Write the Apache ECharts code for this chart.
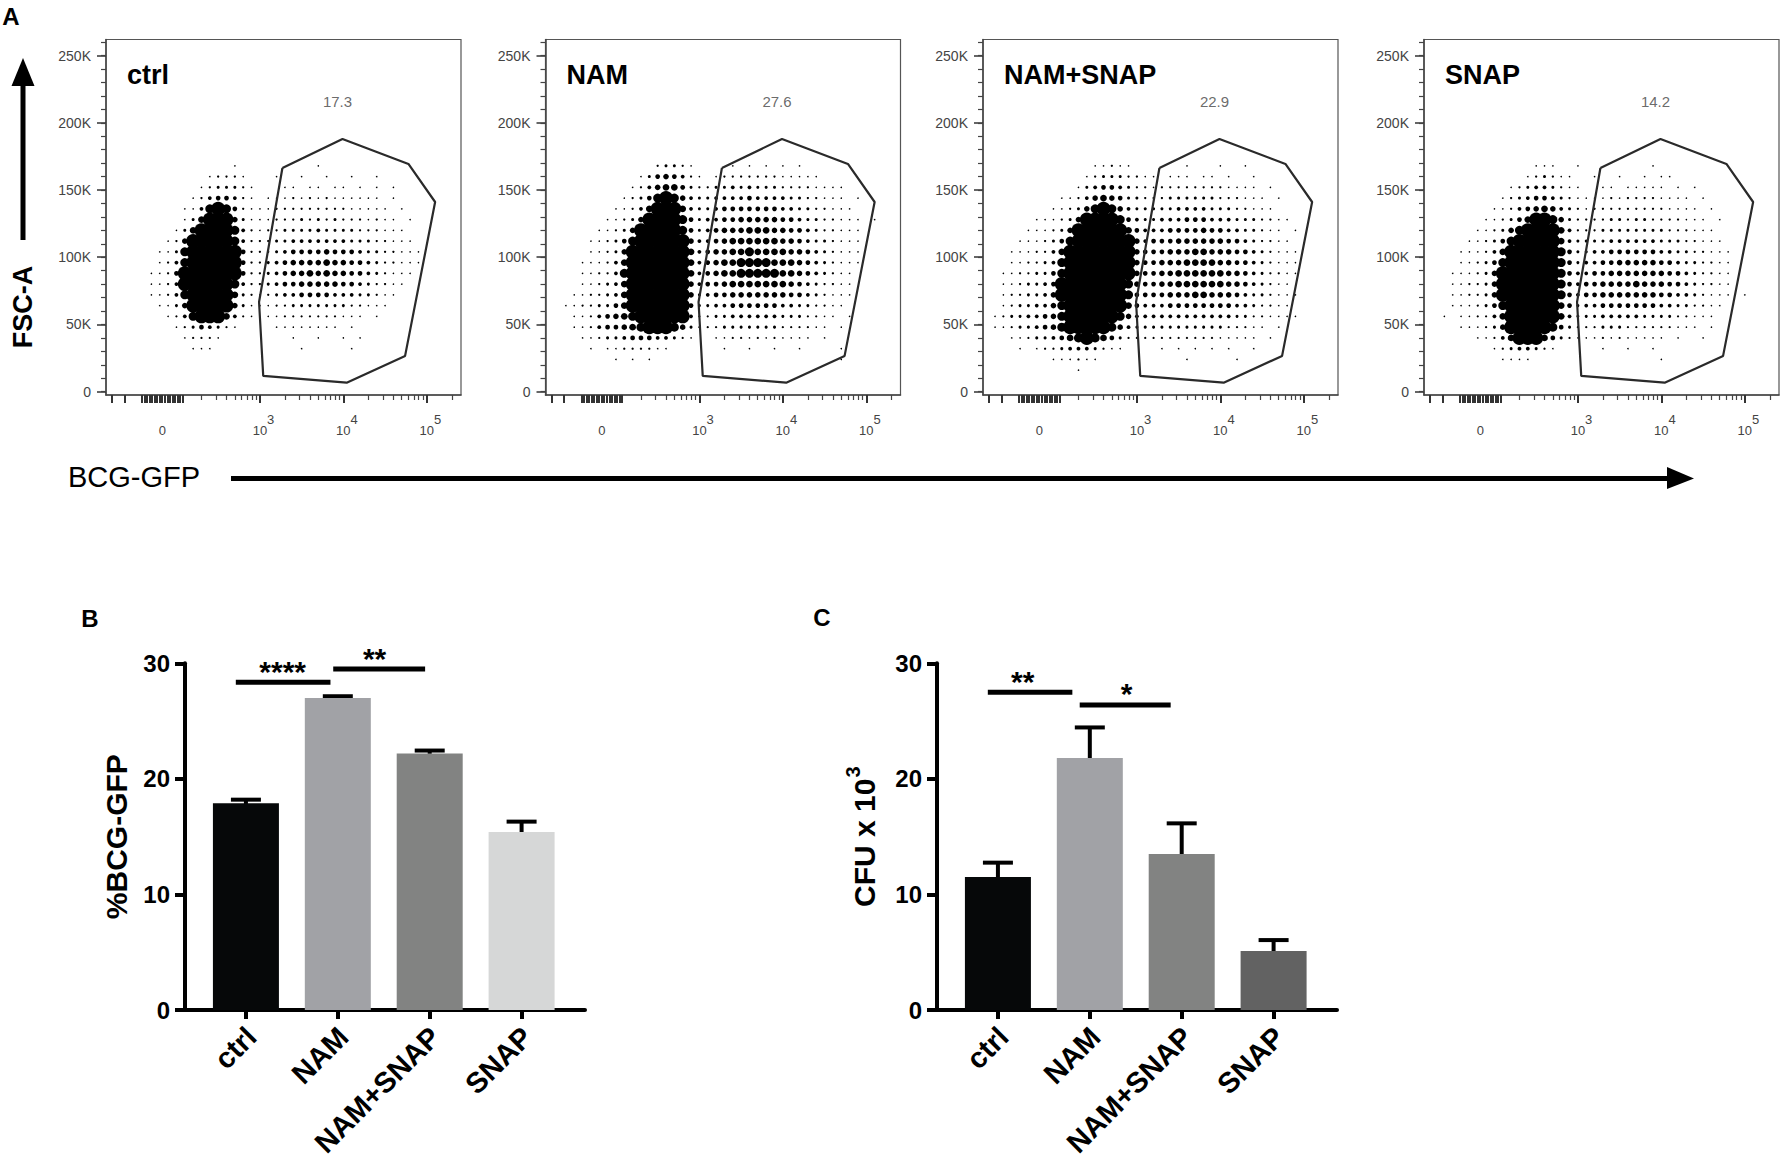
<!DOCTYPE html>
<html>
<head>
<meta charset="utf-8">
<title>BCG-GFP uptake</title>
<script src="https://cdn.jsdelivr.net/npm/echarts@6/dist/echarts.min.js"></script>
<style>
  html, body { margin: 0; padding: 0; background: #fff; }
  #main { width: 1782px; height: 1160px; }
</style>
</head>
<body>
<div id="main"></div>
<script>
// ---- panel A: flow plots ----
var flowNames = ['ctrl', 'NAM', 'NAM+SNAP', 'SNAP'];
var gatePct = [17.3, 27.6, 22.9, 14.2];
// gate polygon (same gate on every plot), x in decades of BCG-GFP, y in FSC-A
var gateX = [3.27, 3.99, 4.78, 5.10, 4.74, 4.04, 3.04, 2.99, 3.27];
var gateY = [166400, 188000, 169400, 141100, 26600, 6700, 11700, 66700, 166400];
var fscTicks = [0, 50000, 100000, 150000, 200000, 250000];
var gfpLabelAt = [1.83, 3, 4, 5];
var gfpMajorTicks = [3, 4, 5, 1.23, 1.38, 1.59, 1.62, 1.65, 1.68, 1.71, 1.74, 1.77, 1.80,
  1.83, 1.86, 1.89, 1.92, 1.95, 1.98, 2.01, 2.04, 2.07];
var logSteps = [0.301, 0.477, 0.602, 0.699, 0.778, 0.845, 0.903, 0.954];

// dot density. rows: FSC-A 176K down to 16K in 8K steps,
// columns: 1.3 to 5.2 decades in 0.1 steps. '.' = no dots, 9 = solid black
var ctrlDots = [
  '.......... .......... .......... ..........',
  '.......... ....1..... ....1..... ..........',
  '.......... .12221...1 ..1..1..1. .1........',
  '.......... 1233321... 11.11.11.1 .1.1......',
  '.........1 2455421.11 1212121111 11.1......',
  '........11 4898521112 2222222211 111.1.....',
  '........13 7999631112 2232323222 1211.1....',
  '.......137 9999842122 3333433332 22111.....',
  '......1269 9999842223 3444444433 322111....',
  '.....11389 9999952223 4555565554 3322111...',
  '.....12489 9999952234 5666676655 4322111...',
  '....112599 9999952234 5667676655 432111....',
  '....112499 9999842234 5566666554 32211.....',
  '....112489 9999732123 4455554443 3211......',
  '.....11369 9999631112 2333333322 111.......',
  '......1248 9997421.11 2222222111 .1........',
  '.......123 54321....1 1111111.1. ..........',
  '........12 221....... .1..1..1.1 ..........',
  '.........1 11........ ..1.....1. ..........',
  '.......... .......... .......... ..........',
  '.......... .......... .......... ..........'
];
var namDots = [
  '.......... .......... .......... ..........',
  '.......... ..23321... .1.1.1.1.1 ..........',
  '.......... 13565421.1 2222222111 11........',
  '.........1 2467753223 3434333222 21111.....',
  '........12 3589864334 4445444433 22111.1...',
  '.......112 4799974334 5555555443 322111....',
  '......1123 6999985344 5566666554 3322111.1.',
  '.....11236 9999985345 6667776655 4322111...',
  '....112358 9999996445 6777777665 4332111...',
  '....112369 9999997456 6778777766 5432111...',
  '...1112479 9999997456 7788887776 5432111...',
  '...1122489 9999997456 7788888776 543211....',
  '...1123479 9999996455 6777777765 432211....',
  '..11223479 9999996345 5666666655 432111....',
  '.112233579 9999995334 4555555443 32211.....',
  '..11245678 9999994223 3444444333 2211.1....',
  '..11245567 8999863222 3333333222 211.1.....',
  '...1123345 5544321..1 1221212111 1.1.......',
  '....1.1122 2211...... 1..1..1..1 ....1.....',
  '.......1.1 .1........ .......... ....1.....',
  '.......... .......... .......... ..........'
];
var namSnapDots = [
  '.......... .......... .......... ..........',
  '.......... ..11211... ...1...1.. 1.........',
  '.......... .123332211 .111.11.1. .1........',
  '.......... 1345543221 2222222211 11.1......',
  '........11 2467653322 2333333222 111.1.....',
  '.......112 3689864333 3344443332 2111......',
  '.....11123 6999985433 4445554443 332211....',
  '....111236 9999997544 4555565544 33211.1...',
  '...1112358 9999999645 5566666655 432211....',
  '..11122479 9999999655 5666776665 5432111...',
  '..11223489 9999999655 6667777665 5432111...',
  '.112233589 9999999655 6677777766 5432211...',
  '.112334599 9999998655 6677777766 543211....',
  '.122334699 9999998555 5666776665 4332111...',
  '.123344689 9999997544 4555555554 432211....',
  '1233445689 9999986444 4444444443 3221111...',
  '1123345689 9999864333 3333333322 211.1.....',
  '..11233457 8987532222 2222222111 11.1......',
  '...1.12234 443211.... 1.1.1.1.1. .1........',
  '.......111 211....... ...1.....1 ..........',
  '.......... 1......... .......... ..........'
];
var snapDots = [
  '.......... .......... .......... ..........',
  '.......... ..111..1.. ......1... ..........',
  '.......... .123211..1 ..1..1.11. ..........',
  '.........1 23443211.. 11.11111.1 .1........',
  '........12 3455432111 1212222111 1.1.......',
  '.......112 4567643212 2222222211 11.1......',
  '......1123 5799863222 2332332222 111.1.....',
  '.....11236 8999974222 3333333322 2111......',
  '....112358 9999974333 3444444333 22111.....',
  '...1112479 9999985334 4555555443 322111....',
  '...1123589 9999985344 5566666554 332211....',
  '..11123699 9999985445 5666666655 432211....',
  '..11223699 9999985455 6666766655 432211....',
  '..11223699 9999985455 6666666554 432111.1..',
  '..11123589 9999975344 5555555443 32211.....',
  '.1.1122479 9999974333 4444433332 2111......',
  '...1112369 9999853222 3332222221 11.1......',
  '.....11247 9997532111 21211111.1 ..1.......',
  '.......123 44321..... 1..1..1... ..........',
  '........11 11........ .......1.. ..........',
  '.......... .......... .......... ..........'
];
var flowDots = [ctrlDots, namDots, namSnapDots, snapDots];

// ---- panels B and C: bars ----
var groups = ['ctrl', 'NAM', 'NAM+SNAP', 'SNAP'];
var gfpMean = [17.9, 27.0, 22.2, 15.4];
var gfpErr = [0.3, 0.15, 0.25, 0.9];
var cfuMean = [11.5, 21.8, 13.5, 5.1];
var cfuErr = [1.25, 2.65, 2.65, 0.95];
var gfpColors = ['#060809', '#a1a2a6', '#828382', '#d6d7d7'];
var cfuColors = ['#060809', '#a1a2a6', '#828382', '#626262'];
// [from, to, height, star x]
var gfpSig = [[-0.11, 0.92, 28.35, 0.40], [0.95, 1.95, 29.5, 1.40]];
var gfpSigText = ['****', '**'];
var cfuSig = [[-0.11, 0.81, 27.5, 0.27], [0.89, 1.88, 26.4, 1.40]];
var cfuSigText = ['**', '*'];

var FONT = '"Liberation Sans", Arial, Helvetica, sans-serif';
var dotSize = [0, 1.6, 2.3, 3, 3.8, 4.7, 5.6, 6.8, 9, 14];
var flowLeft = [106, 545.5, 983, 1424];

var chart = echarts.init(document.getElementById('main'), null, { renderer: 'svg' });

var grids = [], xAxes = [], yAxes = [], series = [], graphics = [];

function toDots(rows) {
  var out = [];
  rows.forEach(function (row, i) {
    var r = row.replace(/ /g, '');
    for (var j = 0; j < r.length; j++) {
      var c = r.charAt(j);
      if (c !== '.') out.push([1.3 + 0.1 * j, 176000 - 8000 * i, +c]);
    }
  });
  return out;
}

var gfpMinorTicks = [];
[2, 3, 4, 5].forEach(function (d) {
  logSteps.forEach(function (s) { if (d + s < 5.4) gfpMinorTicks.push(d + s); });
});
var fscMinor = [];
for (var v = 0; v <= 260000; v += 10000) fscMinor.push(v);

var tickGrey = '#444';

flowNames.forEach(function (name, p) {
  grids.push({
    left: flowLeft[p], top: 39.5, width: 355, height: 355.5,
    show: true, borderColor: '#555', borderWidth: 1.2, backgroundColor: 'transparent',
    outerBoundsMode: 'none'
  });
  xAxes.push({
    type: 'value', gridIndex: p, position: 'bottom', min: 1.156, max: 5.41,
    axisLine: { show: true, onZero: false, lineStyle: { color: '#444', width: 1.5 } },
    axisTick: { show: true, customValues: gfpMajorTicks, length: 8, lineStyle: { color: '#333', width: 2 } },
    axisLabel: {
      show: true, customValues: gfpLabelAt, margin: 28.5,
      formatter: function (val) {
        return val < 2 ? '{p| }{b|0}{s| }' : '{p| }{b|10}{s|' + val + '}';
      },
      rich: {
        p: { width: 7 },
        b: { fontSize: 13, color: tickGrey, fontFamily: FONT, lineHeight: 13, verticalAlign: 'bottom' },
        s: { fontSize: 13, color: tickGrey, fontFamily: FONT, lineHeight: 13, width: 7,
             padding: [0, 0, 11, 0], verticalAlign: 'bottom' }
      }
    },
    splitLine: { show: false }
  });
  xAxes.push({
    type: 'value', gridIndex: p, position: 'bottom', min: 1.156, max: 5.41,
    axisLine: { show: false, onZero: false },
    axisTick: { show: true, customValues: gfpMinorTicks, length: 5, lineStyle: { color: '#444', width: 1.2 } },
    axisLabel: { show: false }, splitLine: { show: false }
  });
  yAxes.push({
    type: 'value', gridIndex: p, position: 'left', min: -2500, max: 262000,
    axisLine: { show: true, onZero: false, lineStyle: { color: '#444', width: 1.5 } },
    axisTick: { show: true, customValues: fscTicks, length: 9, lineStyle: { color: '#333', width: 1.5 } },
    axisLabel: {
      show: true, customValues: fscTicks, margin: 15, fontSize: 14, color: tickGrey, fontFamily: FONT,
      formatter: function (val) { return val === 0 ? '0' : (val / 1000) + 'K'; }
    },
    splitLine: { show: false }
  });
  yAxes.push({
    type: 'value', gridIndex: p, position: 'left', min: -2500, max: 262000,
    axisLine: { show: false, onZero: false },
    axisTick: { show: true, customValues: fscMinor, length: 5, lineStyle: { color: '#444', width: 1.2 } },
    axisLabel: { show: false }, splitLine: { show: false }
  });

  series.push({
    type: 'scatter', xAxisIndex: 2 * p, yAxisIndex: 2 * p, silent: true,
    data: toDots(flowDots[p]),
    symbol: 'circle',
    symbolSize: function (val) { return dotSize[val[2]]; },
    itemStyle: { color: '#000', opacity: 1 }
  });
  series.push({
    type: 'line', xAxisIndex: 2 * p, yAxisIndex: 2 * p, silent: true,
    data: gateX.map(function (x, k) { return [x, gateY[k]]; }),
    symbol: 'none', lineStyle: { color: '#2a2a2a', width: 2.2 }
  });
  series.push({
    type: 'scatter', xAxisIndex: 2 * p, yAxisIndex: 2 * p, silent: true,
    data: [[3.93, 215500, gatePct[p]]], symbolSize: 0,
    label: {
      show: true, position: 'inside', color: tickGrey, fontSize: 15, fontFamily: FONT,
      formatter: function (prm) { return prm.value[2].toFixed(1); }
    }
  });
  graphics.push({
    type: 'text', x: flowLeft[p] + 21, y: 75,
    style: { text: name, font: 'bold 27px ' + FONT, fill: '#000',
             textAlign: 'left', align: 'left', textVerticalAlign: 'middle', verticalAlign: 'middle' }
  });
});

function addBars(left, means, errs, colors, sig, sigText, yName, nameGap, nameStyle) {
  var g = grids.length, xi = xAxes.length, yi = yAxes.length;
  grids.push({ left: left, top: 663.3, width: 400, height: 346.7, outerBoundsMode: 'none' });
  xAxes.push({
    type: 'value', gridIndex: g, position: 'bottom', min: -0.663, max: 3.69,
    axisLine: { show: true, onZero: false, lineStyle: { color: '#000', width: 4 } },
    axisTick: { show: true, customValues: [0, 1, 2, 3], length: 9, lineStyle: { color: '#000', width: 4 } },
    axisLabel: { show: false }, splitLine: { show: false }
  });
  xAxes.push({
    type: 'value', gridIndex: g, position: 'bottom', min: -0.663 - 0.06, max: 3.69 - 0.06,
    axisLine: { show: false, onZero: false }, axisTick: { show: false },
    axisLabel: {
      show: true, customValues: [0, 1, 2, 3], rotate: 45, margin: 22,
      fontSize: 29, fontWeight: 'bold', color: '#000', fontFamily: FONT,
      formatter: function (val) { return groups[val]; }
    },
    splitLine: { show: false }
  });
  yAxes.push({
    type: 'value', gridIndex: g, position: 'left', min: 0, max: 30, interval: 10,
    axisLine: { show: true, onZero: false, lineStyle: { color: '#000', width: 4 } },
    axisTick: { show: true, length: 10, lineStyle: { color: '#000', width: 4 } },
    axisLabel: { margin: 15, fontSize: 24, fontWeight: 'bold', color: '#000', fontFamily: FONT },
    splitLine: { show: false },
    name: yName, nameLocation: 'middle', nameGap: nameGap, nameRotate: 90,
    nameTextStyle: nameStyle
  });
  series.push({
    type: 'bar', xAxisIndex: xi, yAxisIndex: yi, silent: true, barWidth: 66,
    data: means.map(function (m, k) { return { value: [k, m], itemStyle: { color: colors[k] } }; })
  });
  series.push({
    type: 'custom', xAxisIndex: xi, yAxisIndex: yi, silent: true,
    data: means.map(function (m, k) { return [k, m, errs[k]]; }),
    renderItem: function (params, api) {
      var base = api.coord([api.value(0), api.value(1)]);
      var top = api.coord([api.value(0), api.value(1) + api.value(2)]);
      return {
        type: 'group', children: [
          { type: 'line', shape: { x1: base[0], y1: base[1] + 2, x2: top[0], y2: top[1] },
            style: { stroke: '#000', lineWidth: 4 } },
          { type: 'line', shape: { x1: top[0] - 15, y1: top[1], x2: top[0] + 15, y2: top[1] },
            style: { stroke: '#000', lineWidth: 4 } }
        ]
      };
    }
  });
  series.push({
    type: 'custom', xAxisIndex: xi, yAxisIndex: yi, silent: true,
    data: sig,
    renderItem: function (params, api) {
      var a = api.coord([api.value(0), api.value(2)]);
      var b = api.coord([api.value(1), api.value(2)]);
      var s = api.coord([api.value(3), api.value(2)]);
      return {
        type: 'group', children: [
          { type: 'line', shape: { x1: a[0], y1: a[1], x2: b[0], y2: b[1] },
            style: { stroke: '#000', lineWidth: 5 } },
          { type: 'text', x: s[0], y: a[1] - 11,
            style: { text: sigText[params.dataIndex], font: 'bold 30px ' + FONT, fill: '#000',
                     textAlign: 'center', align: 'center', textVerticalAlign: 'middle', verticalAlign: 'middle' } }
        ]
      };
    }
  });
}

addBars(185, gfpMean, gfpErr, gfpColors, gfpSig, gfpSigText, '%BCG-GFP', 54,
  { fontSize: 30, fontWeight: 'bold', color: '#000', fontFamily: FONT });
addBars(937, cfuMean, cfuErr, cfuColors, cfuSig, cfuSigText, '{t|CFU x 10}{s|3}', 58,
  { color: '#000', fontFamily: FONT, rich: {
    t: { fontSize: 30, fontWeight: 'bold', color: '#000', fontFamily: FONT, verticalAlign: 'bottom' },
    s: { fontSize: 20, fontWeight: 'bold', color: '#000', fontFamily: FONT, verticalAlign: 'bottom',
         padding: [0, 0, 16, 1] }
  } });

// panel letters, axis arrows
function label(text, x, y, font, extra) {
  var el = { type: 'text', x: x, y: y,
    style: { text: text, font: font, fill: '#000', textAlign: 'center', align: 'center',
             textVerticalAlign: 'middle', verticalAlign: 'middle' } };
  if (extra) for (var k in extra) el[k] = extra[k];
  graphics.push(el);
}
label('A', 11, 16, 'bold 24px ' + FONT);
label('B', 90, 618, 'bold 24px ' + FONT);
label('C', 822, 617, 'bold 24px ' + FONT);
label('FSC-A', 23, 307, 'bold 27px ' + FONT, { rotation: Math.PI / 2 });
graphics.push({ type: 'rect', shape: { x: 20.5, y: 84, width: 5, height: 156 }, style: { fill: '#000' } });
graphics.push({ type: 'polygon', shape: { points: [[11.5, 86], [34.5, 86], [23, 58]] }, style: { fill: '#000' } });
graphics.push({ type: 'text', x: 68, y: 477,
  style: { text: 'BCG-GFP', font: '29px ' + FONT, fill: '#000', textAlign: 'left', align: 'left',
           textVerticalAlign: 'middle', verticalAlign: 'middle' } });
graphics.push({ type: 'rect', shape: { x: 231, y: 476, width: 1438, height: 5 }, style: { fill: '#000' } });
graphics.push({ type: 'polygon', shape: { points: [[1667, 467], [1667, 489], [1694, 478.5]] }, style: { fill: '#000' } });

chart.setOption({
  animation: false,
  backgroundColor: '#fff',
  textStyle: { fontFamily: FONT },
  grid: grids,
  xAxis: xAxes,
  yAxis: yAxes,
  series: series,
  graphic: graphics
});
</script>
</body>
</html>
